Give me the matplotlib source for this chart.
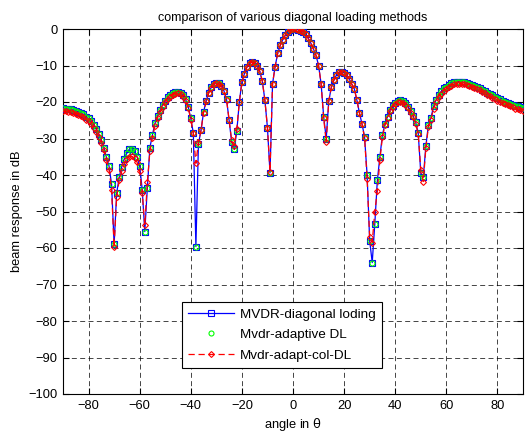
import matplotlib
matplotlib.use("Agg")
import matplotlib.pyplot as plt

plt.rcParams['font.family'] = ['Liberation Sans', 'DejaVu Sans']

angles = list(range(-90, 91))

diag_db = [
    -21.7, -21.8, -21.9, -22.0, -22.2, -22.4, -22.7, -23.0, -23.4, -24.0,
    -24.5, -25.2, -26.2, -27.3, -28.8, -30.5, -32.5, -35.2, -37.5, -42.5,
    -59.0, -45.0, -40.5, -37.7, -35.5, -34.0, -32.9, -32.8, -33.5, -35.0,
    -37.5, -44.0, -55.5, -43.6, -32.5, -29.0, -25.8, -23.8, -22.2, -20.8,
    -19.6, -18.7, -18.0, -17.5, -17.2, -17.2, -17.5, -18.2, -19.3, -21.3,
    -24.5, -28.5, -59.6, -31.5, -27.8, -22.8, -19.7, -17.5, -16.0, -15.1,
    -14.7, -14.9, -15.6, -17.0, -19.3, -25.0, -31.0, -33.0, -28.0, -20.0,
    -14.5, -12.2, -10.4, -9.4, -9.0, -9.2, -10.1, -11.6, -14.3, -19.5,
    -27.0, -39.4, -15.0, -10.3, -6.7, -4.5, -2.9, -1.7, -0.8, -0.3,
    -0.05, 0.0, -0.2, -0.5, -0.9, -1.5, -2.6, -3.9, -5.5, -7.2,
    -10.0, -15.0, -24.0, -30.0, -19.7, -16.0, -14.0, -12.6, -11.9, -11.7,
    -12.0, -12.6, -13.7, -15.1, -16.4, -19.5, -23.0, -26.0, -29.5, -40.0,
    -58.0, -64.0, -53.5, -41.5, -35.0, -29.0, -26.0, -24.0, -22.2, -21.0,
    -20.2, -19.7, -19.5, -19.8, -20.4, -21.3, -22.5, -23.8, -25.5, -28.5,
    -39.5, -40.5, -32.0, -26.2, -24.3, -21.2, -19.4, -18.0, -17.1, -16.3,
    -15.8, -15.3, -14.9, -14.6, -14.4, -14.4, -14.5, -14.6, -14.8, -15.0,
    -15.3, -15.6, -15.9, -16.2, -16.6, -17.0, -17.4, -17.8, -18.2, -18.5,
    -18.9, -19.3, -19.6, -19.9, -20.2, -20.5, -20.8, -21.0, -21.2, -21.4, -21.6,
]

adaptive_db = [
    -21.7, -21.8, -21.9, -22.0, -22.2, -22.4, -22.7, -23.0, -23.4, -24.0,
    -24.5, -25.2, -26.2, -27.3, -28.8, -30.5, -32.5, -35.2, -37.5, -42.5,
    -59.0, -45.0, -40.5, -37.7, -35.5, -34.0, -32.9, -32.8, -33.5, -35.0,
    -37.5, -44.0, -55.5, -43.6, -32.5, -29.0, -25.8, -23.8, -22.2, -20.8,
    -19.6, -18.7, -18.0, -17.5, -17.2, -17.2, -17.5, -18.2, -19.3, -21.3,
    -24.5, -28.5, -59.6, -31.5, -27.8, -22.8, -19.7, -17.5, -16.0, -15.1,
    -14.7, -14.9, -15.6, -17.0, -19.3, -25.0, -31.0, -33.0, -28.0, -20.0,
    -14.5, -12.2, -10.4, -9.4, -9.0, -9.2, -10.1, -11.6, -14.3, -19.5,
    -27.0, -39.4, -15.0, -10.3, -6.7, -4.5, -2.9, -1.7, -0.8, -0.3,
    -0.05, 0.0, -0.2, -0.5, -0.9, -1.5, -2.6, -3.9, -5.5, -7.2,
    -10.0, -15.0, -24.0, -30.0, -19.7, -16.0, -14.0, -12.6, -11.9, -11.7,
    -12.0, -12.6, -13.7, -15.1, -16.4, -19.5, -23.0, -26.0, -29.5, -40.0,
    -58.0, -64.0, -53.5, -41.5, -35.0, -29.0, -26.0, -24.0, -22.2, -21.0,
    -20.2, -19.7, -19.5, -19.8, -20.4, -21.3, -22.5, -23.8, -25.5, -28.5,
    -39.5, -40.5, -32.0, -26.2, -24.3, -21.2, -19.4, -18.0, -17.1, -16.3,
    -15.8, -15.3, -14.9, -14.6, -14.4, -14.4, -14.5, -14.6, -14.8, -15.0,
    -15.3, -15.6, -15.9, -16.2, -16.6, -17.0, -17.4, -17.8, -18.2, -18.5,
    -18.9, -19.3, -19.6, -19.9, -20.2, -20.5, -20.8, -21.0, -21.2, -21.4, -21.6,
]

adapt_col_db = [
    -22.5, -22.6, -22.7, -22.8, -23.0, -23.2, -23.5, -23.8, -24.2, -24.8,
    -25.3, -26.0, -27.0, -28.1, -29.6, -31.2, -33.2, -35.8, -38.5, -44.0,
    -59.8, -46.0, -41.5, -39.0, -37.0, -35.6, -35.0, -34.9, -35.3, -36.5,
    -39.0, -45.0, -53.7, -42.0, -33.5, -29.8, -26.5, -24.4, -22.8, -21.4,
    -20.1, -19.2, -18.5, -18.0, -17.7, -17.6, -17.9, -18.6, -19.7, -21.6,
    -24.8, -28.6, -36.8, -31.0, -27.8, -22.9, -19.8, -17.6, -16.1, -15.2,
    -14.8, -15.0, -15.7, -17.1, -19.4, -25.0, -30.5, -32.0, -27.5, -20.0,
    -14.5, -12.2, -10.4, -9.4, -9.0, -9.2, -10.1, -11.6, -14.3, -19.5,
    -27.0, -39.1, -15.0, -10.3, -6.7, -4.5, -2.9, -1.7, -0.8, -0.3,
    -0.05, 0.0, -0.2, -0.5, -0.9, -1.5, -2.6, -3.9, -5.5, -7.2,
    -10.0, -15.0, -24.5, -31.0, -19.7, -16.0, -14.0, -12.6, -11.9, -11.7,
    -12.0, -12.6, -13.7, -15.1, -16.4, -19.5, -23.0, -26.0, -29.8, -41.0,
    -57.0, -58.5, -50.0, -44.5, -36.0, -29.5, -26.4, -24.4, -22.6, -21.4,
    -20.6, -20.1, -19.9, -20.2, -20.8, -21.7, -22.9, -24.2, -25.9, -28.9,
    -38.5, -41.8, -32.5, -26.8, -24.8, -21.8, -20.0, -18.6, -17.7, -16.9,
    -16.4, -15.9, -15.5, -15.2, -15.0, -15.0, -15.1, -15.2, -15.4, -15.6,
    -15.9, -16.2, -16.5, -16.8, -17.2, -17.6, -18.0, -18.4, -18.8, -19.2,
    -19.6, -20.0, -20.3, -20.6, -20.9, -21.2, -21.5, -21.8, -22.0, -22.2, -22.4,
]

x_ticks = [-80, -60, -40, -20, 0, 20, 40, 60, 80]
y_ticks = [0, -10, -20, -30, -40, -50, -60, -70, -80, -90, -100]

fig = plt.figure(figsize=(5.26, 4.37), dpi=100)
ax = fig.add_axes([63/526, 43/437, 460/526, 365/437])

ax.plot(angles, diag_db, color='blue', linestyle='-', linewidth=0.9,
        marker='s', markersize=4.2, markerfacecolor='none',
        markeredgecolor='blue', markeredgewidth=0.8,
        label='MVDR-diagonal loding', zorder=3)
ax.plot(angles, adaptive_db, color='#00ff00', linestyle='none',
        marker='o', markersize=3.6, markerfacecolor='none',
        markeredgecolor='#00ff00', markeredgewidth=0.8,
        label='Mvdr-adaptive DL', zorder=4)
ax.plot(angles, adapt_col_db, color='red', linestyle=(0, (5, 3)), linewidth=0.9,
        marker='D', markersize=3, markerfacecolor='none',
        markeredgecolor='red', markeredgewidth=0.8,
        label='Mvdr-adapt-col-DL', zorder=5)

ax.set_xlim(-90, 90)
ax.set_ylim(-100, 0)
ax.set_xticks(x_ticks)
ax.set_yticks(y_ticks)
ax.tick_params(direction='in', top=True, right=True, labelsize=9.3,
               length=4, width=0.8, colors='black', pad=4)
ax.grid(True, color='black', linestyle=(0, (6, 4)), linewidth=0.6, alpha=0.85)
for sp in ax.spines.values():
    sp.set_linewidth(0.8)

ax.set_title('comparison of various diagonal loading methods', fontsize=9, pad=6)
ax.set_xlabel(r'angle in $\mathrm{\theta}$', fontsize=9.3, labelpad=3)
ax.set_ylabel('beam response in dB', fontsize=9.3, labelpad=4)

leg = ax.legend(loc='lower left', bbox_to_anchor=(0.258, 0.072),
                borderaxespad=0.0,
                fontsize=9.7, frameon=True, fancybox=False, framealpha=1,
                edgecolor='black', borderpad=0.45, handlelength=3.4,
                handletextpad=0.5, labelspacing=0.6)
leg.get_frame().set_linewidth(0.8)

fig.savefig('out.png', dpi=100)
